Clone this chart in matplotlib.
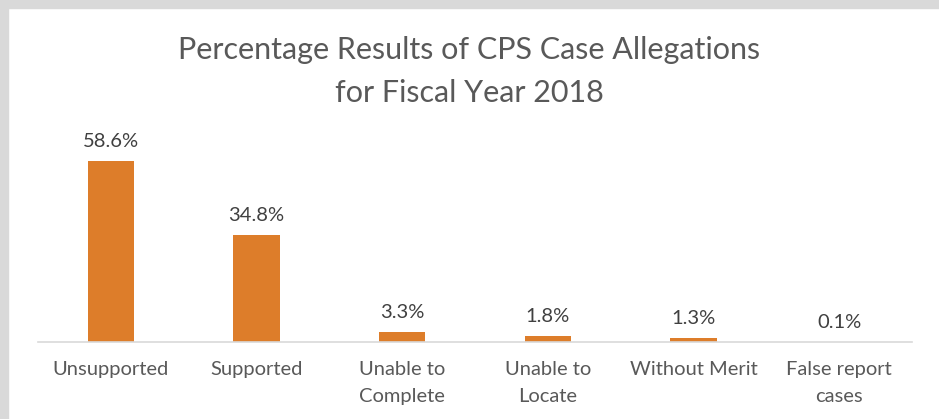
import numpy as np
import matplotlib.pyplot as plt
from matplotlib.patches import Rectangle

categories = ["Unsupported", "Supported", "Unable to\nComplete", "Unable to\nLocate",
              "Without Merit", "False report\ncases"]
percentages = [58.6, 34.8, 3.3, 1.8, 1.3, 0.1]

W, H = 939, 419
fig = plt.figure(figsize=(W / 100, H / 100), dpi=100)
plt.rcParams['font.family'] = ['Lato', 'DejaVu Sans']

# grey frame strips on the top and left edges
fig.patches.append(Rectangle((0, 0), 8 / W, 1, transform=fig.transFigure, color="#D9D9D9", zorder=0))
fig.patches.append(Rectangle((0, 1 - 8 / H), 1, 8 / H, transform=fig.transFigure, color="#D9D9D9", zorder=0))

ax = fig.add_axes([38 / W, 1 - 342 / H, (912 - 38) / W, (342 - 126) / H])
x = np.arange(len(categories))
ax.bar(x, percentages, width=0.32, color="#DD7D2A")
ax.set_xlim(-0.5, len(categories) - 0.5)
ax.set_ylim(0, 70)

for xi, v in zip(x, percentages):
    ax.annotate(f"{v:.1f}%", (xi, v), xytext=(0, 8), textcoords="offset points",
                ha="center", va="bottom", fontsize=14.5, color="#404040")

ax.set_xticks(x)
ax.set_xticklabels(categories, fontsize=14.5, color="#595959", linespacing=1.7, va="top")
ax.tick_params(axis="x", length=0, pad=14)
ax.set_yticks([])
for s in ["top", "left", "right"]:
    ax.spines[s].set_visible(False)
ax.spines["bottom"].set_color("#D9D9D9")
ax.spines["bottom"].set_linewidth(1.2)

fig.text(0.5, 1 - 50 / H, "Percentage Results of CPS Case Allegations",
         ha="center", va="center", fontsize=22, color="#595959")
fig.text(0.5, 1 - 93 / H, "for Fiscal Year 2018",
         ha="center", va="center", fontsize=22, color="#595959")

fig.savefig("out.png", dpi=100)
